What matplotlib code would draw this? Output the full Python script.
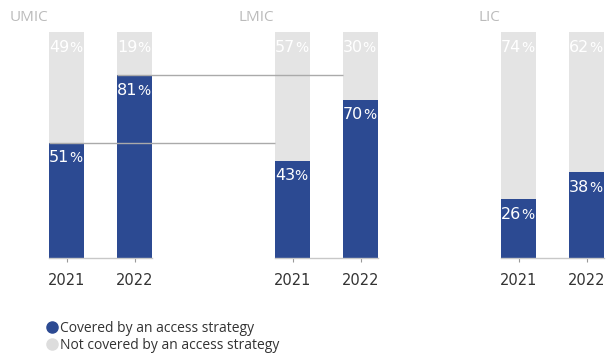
import matplotlib
matplotlib.use("Agg")
import matplotlib.pyplot as plt
from matplotlib.lines import Line2D

groups = ["UMIC", "LMIC", "LIC"]
years = ["2021", "2022"]
covered = [[51, 81], [43, 70], [26, 38]]
not_covered = [[49, 19], [57, 30], [74, 62]]

BLUE = "#2C4A92"
GREY = "#E4E4E4"
FONT = ["Open Sans", "DejaVu Sans"]
NUMFONT = ["DejaVu Sans"]
plt.rcParams["font.family"] = FONT

W, H = 609, 354
fig = plt.figure(figsize=(W / 100, H / 100), dpi=100)
ax = fig.add_axes([0, (H - 258) / H, 1, (258 - 32) / H])

px = 68.0
ax.set_xlim(-66.5 / px, (W - 66.5) / px)
ax.set_ylim(0, 100)
bw = 35 / px
goff = 226 / px

xs, labels = [], []
for gi, g in enumerate(groups):
    for yi, y in enumerate(years):
        x = gi * goff + yi
        xs.append(x)
        labels.append(y)
        c = covered[gi][yi]
        n = not_covered[gi][yi]
        ax.bar(x, c, width=bw, color=BLUE, zorder=2, linewidth=0)
        ax.bar(x, n, bottom=c, width=bw, color=GREY, zorder=2, linewidth=0)
    x0 = gi * goff - bw / 2
    x1 = gi * goff + 1 + bw / 2
    ax.plot([x0, x1], [0, 0], color="#c8c8c8", lw=1, clip_on=False, zorder=3)
    ax.text(x0 - 1 / px, 106.5, g, ha="right", va="center", fontsize=11,
            color="#BBBBBB")

# connector lines
ax.hlines(covered[0][0], -bw / 2, goff - bw / 2, color="#AAAAAA", lw=1, zorder=4)
ax.hlines(covered[0][1], 1 - bw / 2, goff + 1 - bw / 2, color="#AAAAAA", lw=1, zorder=4)

for s in ax.spines.values():
    s.set_visible(False)
ax.set_yticks([])
ax.set_xticks(xs)
ax.set_xticklabels(labels, fontsize=10.5, color="#333333", family=NUMFONT)
ax.tick_params(axis="x", length=3, color="#999999", pad=8)

fig.canvas.draw()
r = fig.canvas.get_renderer()
for gi in range(3):
    for yi in range(2):
        x = gi * goff + yi - bw / 2
        for val, top in ((covered[gi][yi], covered[gi][yi]),
                         (not_covered[gi][yi], 100)):
            yb = top - 8.7
            t = ax.text(x, yb, str(val), ha="left", va="baseline", fontsize=11.5,
                        color="white", zorder=5, family=NUMFONT)
            bb = t.get_window_extent(r)
            ax.annotate("%", xy=(bb.x1 - 0.5, yb), xycoords=("figure pixels", "data"),
                        ha="left", va="baseline", fontsize=10, color="white", zorder=5,
                        family=NUMFONT)

handles = [
    Line2D([], [], marker="o", ls="", color=BLUE, markersize=8),
    Line2D([], [], marker="o", ls="", color="#DDDDDD", markersize=8),
]
fig.legend(handles, ["Covered by an access strategy", "Not covered by an access strategy"],
           loc="upper left", bbox_to_anchor=(38 / W, 1 - 315 / H), frameon=False,
           fontsize=10, handletextpad=0.0, labelspacing=0.2, borderaxespad=0,
           handlelength=1.2, labelcolor="#333333")

fig.savefig("out.png", dpi=100)
